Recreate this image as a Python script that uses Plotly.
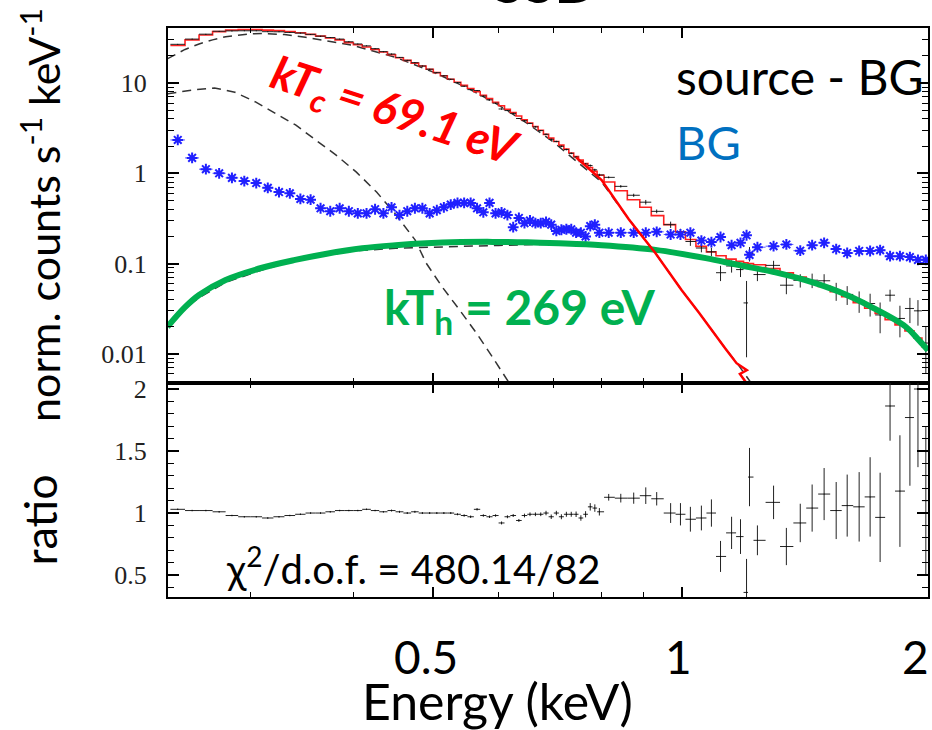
import numpy as np
import plotly.graph_objects as go
from plotly.subplots import make_subplots

# ---------------- data ----------------
# bin centres (keV): 10 eV channels up to 0.8 keV, grouped bins above
energy = [0.245, 0.255, 0.265, 0.275, 0.285, 0.295, 0.305, 0.315, 0.325, 0.335,
          0.345, 0.355, 0.365, 0.375, 0.385, 0.395, 0.405, 0.415, 0.425, 0.435,
          0.445, 0.455, 0.465, 0.475, 0.485, 0.495, 0.505, 0.515, 0.525, 0.535,
          0.545, 0.555, 0.565, 0.575, 0.585, 0.595, 0.605, 0.615, 0.625, 0.635,
          0.645, 0.655, 0.665, 0.675, 0.685, 0.695, 0.705, 0.715, 0.725, 0.735,
          0.745, 0.755, 0.765, 0.775, 0.785, 0.795,
          0.816, 0.844, 0.875, 0.905, 0.933, 0.970, 0.997, 1.025, 1.057, 1.087,
          1.115, 1.150, 1.179, 1.199, 1.209, 1.236, 1.293, 1.340, 1.393, 1.440,
          1.489, 1.540, 1.588, 1.642, 1.693, 1.741, 1.790, 1.840, 1.892, 1.935, 1.978]

# folded total model (red histogram), counts s^-1 keV^-1
model = [26, 30, 34, 37, 38.5, 39, 39, 38.5, 38, 37,
         36, 34.5, 33, 31.5, 30, 28, 26.5, 25, 23.5, 22,
         20.5, 19, 17.8, 16.6, 15.4, 14.2, 13, 12, 11, 10.2,
         9.4, 8.7, 8.0, 7.3, 6.7, 6.1, 5.6, 5.1, 4.7, 4.3,
         3.9, 3.6, 3.3, 3.0, 2.7, 2.45, 2.25, 2.05, 1.85, 1.68,
         1.53, 1.40, 1.28, 1.16, 1.05, 0.95,
         0.80, 0.64, 0.51, 0.42, 0.34, 0.27, 0.225, 0.185, 0.155, 0.135,
         0.122, 0.112, 0.106, 0.102, 0.100, 0.097, 0.088, 0.079, 0.071, 0.063,
         0.056, 0.049, 0.043, 0.037, 0.032, 0.028, 0.024, 0.021, 0.018, 0.015, 0.012]

# data / model ratio (lower panel) and its errors
ratio = [1.03, 1.02, 1.02, 1.01, 0.98, 0.97, 0.97, 0.96, 0.97, 0.98,
         0.99, 1.00, 1.00, 1.01, 1.02, 1.02, 1.02, 1.03, 1.02, 1.01,
         1.02, 1.01, 1.00, 1.01, 1.00, 1.00, 1.00, 1.00, 1.00, 0.99,
         0.98, 0.97, 1.03, 0.98, 0.97, 0.98, 0.92, 0.97, 0.98, 0.94,
         0.98, 0.99, 0.99, 0.99, 1.00, 0.97, 1.00, 0.97, 0.99, 0.99,
         0.99, 0.96, 0.99, 1.05, 1.04, 1.01,
         1.127, 1.12, 1.12, 1.14, 1.115, 1.00, 0.99, 0.95, 0.96, 1.00,
         0.65, 0.84, 0.81, 0.36, 1.29, 0.78, 1.086, 0.73, 0.92, 1.04,
         1.153, 1.02, 1.06, 1.05, 1.13, 0.965, 1.863, 1.177, 1.77, 2.00, 1.10]

ratio_err = [0.006, 0.006, 0.006, 0.006, 0.006, 0.006, 0.006, 0.006, 0.006, 0.006,
             0.006, 0.006, 0.006, 0.006, 0.006, 0.006, 0.006, 0.006, 0.006, 0.006,
             0.008, 0.008, 0.008, 0.008, 0.008, 0.008, 0.008, 0.008, 0.008, 0.008,
             0.010, 0.010, 0.010, 0.010, 0.010, 0.010, 0.012, 0.012, 0.012, 0.012,
             0.015, 0.015, 0.015, 0.015, 0.018, 0.018, 0.018, 0.020, 0.020, 0.020,
             0.022, 0.022, 0.025, 0.030, 0.030, 0.030,
             0.027, 0.035, 0.045, 0.067, 0.054, 0.08, 0.09, 0.10, 0.10, 0.11,
             0.125, 0.13, 0.14, 0.27, 0.235, 0.12, 0.135, 0.15, 0.155, 0.19,
             0.21, 0.23, 0.25, 0.28, 0.32, 0.36, 0.28, 0.45, 0.55, 0.63, 0.60]

# background spectrum (blue stars)
background = [2.34, 1.48, 1.11, 1.00, 0.89, 0.82, 0.78, 0.69, 0.62, 0.60,
              0.52, 0.51, 0.41, 0.38, 0.41, 0.38, 0.36, 0.36, 0.40, 0.36,
              0.42, 0.345, 0.38, 0.41, 0.41, 0.36, 0.39, 0.42, 0.45, 0.47,
              0.47, 0.47, 0.41, 0.37, 0.47, 0.36, 0.37, 0.345, 0.253, 0.32,
              0.28, 0.30, 0.28, 0.28, 0.29, 0.27, 0.23, 0.237, 0.24, 0.24,
              0.22, 0.22, 0.20, 0.26, 0.27, 0.22,
              0.22, 0.22, 0.22, 0.22, 0.225, 0.21, 0.21, 0.22, 0.18, 0.173,
              0.197, 0.16, 0.17, 0.206, 0.125, 0.152, 0.156, 0.163, 0.139, 0.16,
              0.17, 0.145, 0.131, 0.138, 0.138, 0.141, 0.121, 0.121, 0.118, 0.11, 0.11]

# model components (dashed)
cool_E = [0.238, 0.25, 0.26, 0.27, 0.28, 0.29, 0.30, 0.31, 0.32, 0.33, 0.35, 0.37, 0.40,
          0.45, 0.50, 0.55, 0.60, 0.65, 0.70, 0.75, 0.80, 0.863, 0.93, 1.0, 1.05, 1.13, 1.17, 1.22]
cool_v = [18.5, 23.5, 27, 30, 32.5, 34, 35, 35.2, 35, 34.3, 32, 29.5, 26,
          19.2, 13.2, 8.8, 5.7, 3.57, 2.2, 1.3, 0.80, 0.31, 0.13, 0.051, 0.0286, 0.0115, 0.0077, 0.0045]

soft_E = [0.238, 0.2566, 0.2715, 0.2873, 0.304, 0.3217, 0.3404, 0.3602, 0.3812, 0.4034,
          0.4268, 0.4491, 0.4752, 0.4903, 0.5127, 0.5377, 0.5641, 0.5895, 0.6178]
soft_v = [7.6, 8.4, 8.8, 7.9, 6.2, 4.65, 3.43, 2.33, 1.59, 1.03,
          0.62, 0.36, 0.183, 0.101, 0.055, 0.031, 0.017, 0.0093, 0.0048]

hot_E = [0.238, 0.25, 0.26, 0.28, 0.31, 0.34, 0.37, 0.40, 0.45, 0.50, 0.55, 0.60, 0.65,
         0.70, 0.80, 0.93, 1.07, 1.17, 1.30, 1.41, 1.55, 1.70, 1.87, 1.94, 1.99]
hot_v = [0.021, 0.032, 0.042, 0.062, 0.085, 0.108, 0.126, 0.138, 0.148, 0.153, 0.156, 0.159, 0.162,
         0.164, 0.160, 0.142, 0.115, 0.097, 0.080, 0.066, 0.049, 0.033, 0.020, 0.0142, 0.011]

# highlighted hot component (green) and cool component (red line)
green_E = [0.238, 0.25, 0.26, 0.28, 0.31, 0.34, 0.37, 0.41, 0.45, 0.49, 0.54, 0.59, 0.65,
           0.71, 0.80, 0.93, 1.07, 1.17, 1.30, 1.41, 1.55, 1.70, 1.87, 1.94, 1.99]
green_v = [0.020, 0.033, 0.045, 0.066, 0.090, 0.110, 0.128, 0.148, 0.160, 0.168, 0.173, 0.174, 0.172,
           0.168, 0.160, 0.142, 0.115, 0.097, 0.080, 0.066, 0.049, 0.033, 0.020, 0.0142, 0.011]

kTc_E = [0.745, 0.80, 0.863, 0.93, 1.0, 1.05, 1.13, 1.166, 1.20, 1.177, 1.20]
kTc_v = [1.5, 0.84, 0.31, 0.13, 0.051, 0.0286, 0.0115, 0.0079, 0.0066, 0.0060, 0.0047]

x_ticks = [0.5, 1, 2]
x_ticktext = ["0.5", "1", "2"]
y_ticks = [0.01, 0.1, 1, 10]
y_ticktext = ["0.01", "0.1", "1", "10"]
r_ticks = [0.5, 1, 1.5, 2]
r_ticktext = ["0.5", "1", "1.5", "2"]

# ---------------- derived quantities ----------------
edges = [0.24] + [(a + b) / 2 for a, b in zip(energy[:-1], energy[1:])] + [2.0]
xlo = [e - edges[i] for i, e in enumerate(energy)]
xhi = [edges[i + 1] - e for i, e in enumerate(energy)]
data = [m * r for m, r in zip(model, ratio)]
data_err = [m * re for m, re in zip(model, ratio_err)]

SANS = "Lato"
SERIF = "Liberation Serif"

fig = make_subplots(rows=2, cols=1, shared_xaxes=True, vertical_spacing=0,
                    row_heights=[0.624, 0.376])

dash = "9px,6px"
for ex, vy in [(cool_E, cool_v), (soft_E, soft_v), (hot_E, hot_v)]:
    fig.add_trace(go.Scatter(x=ex, y=vy, mode="lines",
                             line=dict(color="#333333", width=1.5, dash=dash)), row=1, col=1)

fig.add_trace(go.Scatter(x=edges, y=model + [model[-1]], mode="lines",
                         line=dict(color="#ff2020", width=1.6, shape="hv")), row=1, col=1)

fig.add_trace(go.Scatter(x=energy, y=data, mode="markers",
                         marker=dict(size=1, color="black"),
                         error_x=dict(type="data", symmetric=False, array=xhi, arrayminus=xlo,
                                      thickness=1, width=0, color="#222"),
                         error_y=dict(type="data", array=data_err, thickness=1, width=0, color="#222")),
              row=1, col=1)

fig.add_trace(go.Scatter(x=energy, y=background, mode="markers",
                         marker=dict(symbol="asterisk-open", size=9, color="#2020ff",
                                     line=dict(color="#2020ff", width=2)),
                         error_x=dict(type="data", symmetric=False, array=xhi, arrayminus=xlo,
                                      thickness=1, width=0, color="#5a5aff")),
              row=1, col=1)

fig.add_trace(go.Scatter(x=green_E, y=green_v, mode="lines",
                         line=dict(color="#00b050", width=6, shape="spline")), row=1, col=1)

fig.add_trace(go.Scatter(x=kTc_E, y=kTc_v, mode="lines",
                         line=dict(color="#ff0000", width=2.5)), row=1, col=1)

# ratio panel
fig.add_hline(y=1, line=dict(color="#6bee6b", width=3), layer="below", row=2, col=1)
fig.add_trace(go.Scatter(x=energy, y=ratio, mode="markers",
                         marker=dict(size=1, color="black"),
                         error_x=dict(type="data", symmetric=False, array=xhi, arrayminus=xlo,
                                      thickness=1, width=0, color="#222"),
                         error_y=dict(type="data", array=ratio_err, thickness=1, width=0, color="#222")),
              row=2, col=1)

# ---------------- axes ----------------
xr = [np.log10(0.2384), np.log10(1.99)]
common_x = dict(type="log", range=xr, showline=True, linewidth=2, linecolor="black",
                mirror="ticks", ticks="inside", ticklen=10, tickwidth=1.5, tickcolor="black",
                tickvals=x_ticks, showgrid=False, zeroline=False,
                minor=dict(tickvals=[0.3, 0.4, 0.6, 0.7, 0.8, 0.9], ticks="inside",
                           ticklen=5, tickwidth=1, tickcolor="black", showgrid=False))
fig.update_xaxes(**common_x, showticklabels=False, row=1, col=1)
fig.update_xaxes(**common_x, showticklabels=False, row=2, col=1)

fig.update_yaxes(type="log", range=[np.log10(0.00476), np.log10(40.6)],
                 showline=True, linewidth=2, linecolor="black", mirror="ticks",
                 ticks="inside", ticklen=11, tickwidth=1.5, tickcolor="black",
                 tickvals=y_ticks, ticktext=y_ticktext,
                 tickfont=dict(family=SERIF, size=26, color="#222"), ticklabelstandoff=14,
                 showgrid=False, zeroline=False,
                 minor=dict(tickvals=[m * 10.0 ** k for k in range(-3, 2) for m in range(2, 10)],
                            ticks="inside", ticklen=6, tickwidth=1, tickcolor="black", showgrid=False),
                 row=1, col=1)
fig.update_yaxes(range=[0.323, 2.048], showline=True, linewidth=2, linecolor="black", mirror="ticks",
                 ticks="inside", ticklen=11, tickwidth=1.5, tickcolor="black",
                 tickvals=r_ticks, ticktext=r_ticktext,
                 tickfont=dict(family=SERIF, size=26, color="#222"), ticklabelstandoff=14,
                 showgrid=False, zeroline=False,
                 minor=dict(dtick=0.1, ticks="inside", ticklen=6, tickwidth=1, tickcolor="black",
                            showgrid=False),
                 row=2, col=1)

# ---------------- text ----------------
def note(text, x, y, size, color="black", xanchor="center", yanchor="middle", **kw):
    font = dict(family=SANS, size=size, color=color)
    font.update(kw.pop("font_extra", {}))
    return dict(text=text, xref=kw.pop("xref", "paper"), yref="paper", x=x, y=y,
                xanchor=xanchor, yanchor=yanchor, showarrow=False, font=font, **kw)

ann = [
    note("<b>SSD</b>", 0.496, 1.019, 56, yanchor="bottom"),
    note("kT<sub>c</sub> = 69.1 eV", 0.298, 0.8506, 46, color="#ff0000", textangle=18,
         font_extra=dict(weight="bold", style="italic")),
    note("kT<sub>h</sub> = 269 eV", 0.463, 0.505, 48, color="#00b050",
         font_extra=dict(weight="bold")),
    note("source - BG", 0.998, 0.914, 48, xanchor="right"),
    note("BG", 0.666, 0.80, 47, color="#0070c0", xanchor="left"),
    note("χ<sup>2</sup>/d.o.f. = 480.14/82", 0.0738, 0.0545, 40, xanchor="left"),
    note("Energy (keV)", 0.433, -0.183, 50),
    note("norm. counts s<sup>-1</sup> keV<sup>-1</sup>", -0.168, 0.672, 43, textangle=-90),
    note("ratio", -0.168, 0.135, 45, textangle=-90),
    note(x_ticktext[0], np.log10(x_ticks[0]), -0.105, 46, xref="x2", xshift=-7),
    note(x_ticktext[1], np.log10(x_ticks[1]), -0.105, 46, xref="x2", xshift=-3),
    note(x_ticktext[2], 1.0, -0.105, 46, xanchor="right", xshift=3),
]

fig.update_layout(width=932, height=730, margin=dict(l=168, r=2, t=28, b=133),
                  plot_bgcolor="white", paper_bgcolor="white", showlegend=False,
                  annotations=ann)

fig.write_html("out.html", config={"displayModeBar": False},
               post_script="document.body.style.margin='0';")
